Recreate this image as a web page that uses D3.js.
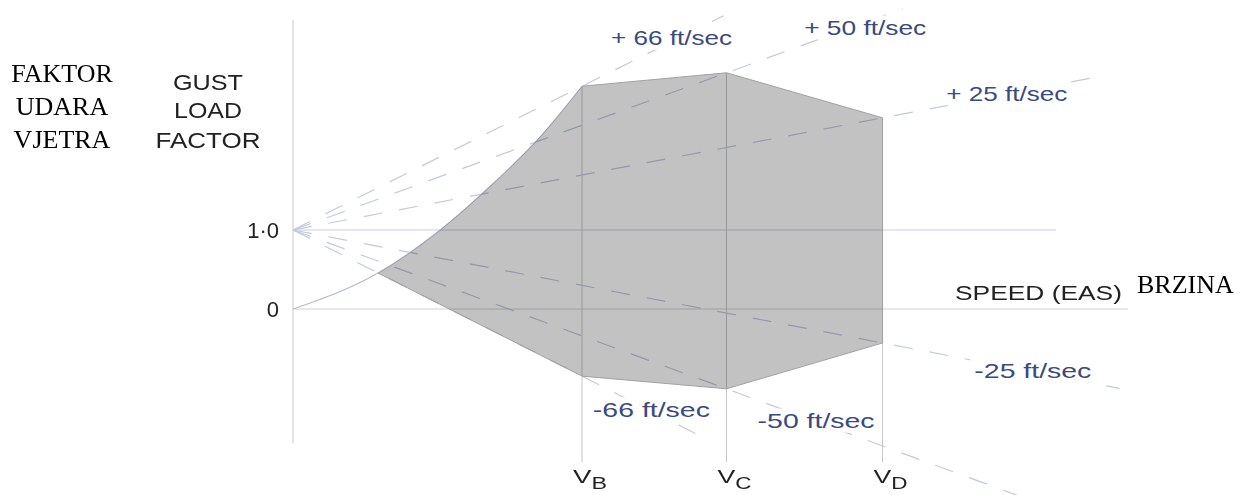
<!DOCTYPE html>
<html>
<head>
<meta charset="utf-8">
<script src="https://cdn.jsdelivr.net/npm/d3@7"></script>
<style>
    html, body { margin: 0; padding: 0; background: #fff; }
    svg { display: block; }
</style>
</head>
<body>
<svg id="chart" width="1243" height="495"></svg>
<script>
(function () {
    // speeds V_B, V_C, V_D (arbitrary EAS units)
    const speedNames = ["B", "C", "D"];
    const speedValues = [100, 150, 204];

    // gust lines, all from n = 1 at V = 0
    const gustLabels = ["+ 66 ft/sec", "+ 50 ft/sec", "+ 25 ft/sec", "-25 ft/sec", "-50 ft/sec", "-66 ft/sec"];
    const gustRefSpeed = [100, 150, 204, 204, 150, 100];
    const gustRefN = [2.82, 2.99, 2.42, -0.43, -1.01, -0.85];
    const gustEndSpeed = [149, 211, 281, 286, 252, 144];
    const gustLabelSpeed = [131, 198, 247, 256, 181, 124];

    // stall curve
    const stallSpeed = [0, 29.4, 50.9, 65.7, 85.5, 100];
    const stallN = [0, 0.456, 1.0, 1.47, 2.18, 2.82];

    const tickValues = [0, 1];
    const tickLabels = ["0", "1·0"];

    const COLORS = {
        fill: "#c2c2c2",
        edge: "#a2a2a2",
        gust: "#c4c9dc",
        unity: "#c9cde8",
        zero: "#d2d2d2",
        axis: "#c8c8c8",
        stall: "#b6bace",
        label: "#3a4a80",
        text: "#222"
    };
    const SANS = "'Liberation Sans', Arial, sans-serif";
    const SERIF = "'Liberation Serif', 'Times New Roman', serif";

    const svg = d3.select("#chart");
    const x = d3.scaleLinear().domain([0, 100]).range([293, 582]);
    const y = d3.scaleLinear().domain([0, 1]).range([309, 230]);

    const gustN = (i, v) => 1 + (gustRefN[i] - 1) * v / gustRefSpeed[i];
    const stallPts = stallSpeed.map((v, i) => [v, stallN[i]]);

    const defs = svg.append("defs");

    // region under the stall curve (plus everything right of V_B)
    const underStall = d3.area()
        .x(d => x(d[0]))
        .y0(y(-3))
        .y1(d => y(d[1]))
        .curve(d3.curveMonotoneX);
    const clip = defs.append("clipPath").attr("id", "stall-clip");
    clip.append("path").attr("d", underStall(stallPts));
    clip.append("rect")
        .attr("x", x(100) - 0.5).attr("y", y(5))
        .attr("width", x(320) - x(100)).attr("height", y(-3) - y(5));

    // envelope corners
    const top = [0, 1, 2].map(i => [gustRefSpeed[i], gustRefN[i]]);
    const bottom = [3, 4, 5].map(i => [gustRefSpeed[i], gustRefN[i]]);
    const leftPt = [stallSpeed[1], stallN[1]];
    const envelope = [[stallSpeed[1], 3.5]].concat(top, bottom, [leftPt]);

    const lineGen = d3.line().x(d => x(d[0])).y(d => y(d[1]));

    svg.append("path")
        .attr("d", lineGen(envelope) + "Z")
        .attr("fill", COLORS.fill)
        .attr("clip-path", "url(#stall-clip)");

    // thin lines, multiplied so they darken over the grey envelope
    const lines = svg.append("g").style("mix-blend-mode", "multiply").attr("fill", "none");

    lines.append("line")
        .attr("x1", x(0)).attr("x2", x(0))
        .attr("y1", y(3.66)).attr("y2", y(-1.70))
        .attr("stroke", COLORS.axis);

    lines.append("line")
        .attr("x1", x(0)).attr("x2", x(289))
        .attr("y1", y(0)).attr("y2", y(0))
        .attr("stroke", COLORS.zero);

    lines.append("line")
        .attr("x1", x(0)).attr("x2", x(264))
        .attr("y1", y(1)).attr("y2", y(1))
        .attr("stroke", COLORS.unity);

    lines.selectAll("line.speed")
        .data(speedValues)
        .enter().append("line")
        .attr("class", "speed")
        .attr("x1", d => x(d)).attr("x2", d => x(d))
        .attr("y1", (d, i) => y(gustRefN[i])).attr("y2", y(-1.94))
        .attr("stroke", "#c6c6c6");

    lines.selectAll("line.gust")
        .data(gustLabels)
        .enter().append("line")
        .attr("class", "gust")
        .attr("x1", x(0)).attr("y1", y(1))
        .attr("x2", (d, i) => x(gustEndSpeed[i]))
        .attr("y2", (d, i) => y(gustN(i, gustEndSpeed[i])))
        .attr("stroke", COLORS.gust)
        .attr("stroke-width", 1.2)
        .attr("stroke-dasharray", "19,17");

    lines.append("path")
        .attr("d", d3.line().x(d => x(d[0])).y(d => y(d[1])).curve(d3.curveMonotoneX)(stallPts))
        .attr("stroke", COLORS.stall)
        .attr("stroke-width", 1.1);

    // straight envelope edges
    svg.append("path")
        .attr("d", lineGen(top.concat(bottom, [leftPt])))
        .attr("fill", "none")
        .attr("stroke", COLORS.edge)
        .attr("stroke-width", 1);

    // gust labels with white backing
    const labelDy = [-4, 5, -1, -1, -1, -2];
    const labelW = [121, 122, 121, 117, 117, 117];
    const gl = svg.append("g")
        .selectAll("g")
        .data(gustLabels)
        .enter().append("g")
        .attr("transform", (d, i) => {
            const v = gustLabelSpeed[i];
            return `translate(${x(v)},${y(gustN(i, v)) + labelDy[i]})`;
        });
    gl.append("rect")
        .attr("x", (d, i) => -labelW[i] / 2 - 4)
        .attr("y", -12)
        .attr("width", (d, i) => labelW[i] + 8)
        .attr("height", 24)
        .attr("fill", "#fff");
    gl.append("text")
        .attr("text-anchor", "middle")
        .attr("dy", "0.36em")
        .attr("font-family", SANS)
        .attr("font-size", 21)
        .attr("fill", COLORS.label)
        .attr("textLength", (d, i) => labelW[i])
        .attr("lengthAdjust", "spacingAndGlyphs")
        .text(d => d);

    // y tick labels
    const yAxis = svg.append("g")
        .attr("transform", `translate(${x(0)},0)`)
        .call(d3.axisLeft(y).tickValues(tickValues)
            .tickFormat((d, i) => tickLabels[i])
            .tickSize(0).tickPadding(14));
    yAxis.select(".domain").remove();
    yAxis.selectAll("text")
        .attr("font-family", SANS)
        .attr("font-size", 22)
        .attr("fill", COLORS.text);

    // speed labels V_B, V_C, V_D
    const vl = svg.selectAll("text.vlabel")
        .data(speedNames)
        .enter().append("text")
        .attr("class", "vlabel")
        .attr("x", (d, i) => x(speedValues[i]) - 9)
        .attr("y", 483)
        .attr("font-family", SANS)
        .attr("fill", COLORS.text)
        .attr("textLength", 34)
        .attr("lengthAdjust", "spacingAndGlyphs");
    vl.append("tspan").attr("font-size", 19).text("V");
    vl.append("tspan").attr("font-size", 16).attr("dy", 6).text(d => d);

    // titles
    const serifLines = ["FAKTOR", "UDARA", "VJETRA"];
    const serifBase = [82, 115, 148];
    svg.selectAll("text.serif")
        .data(serifLines)
        .enter().append("text")
        .attr("class", "serif")
        .attr("x", 62).attr("y", (d, i) => serifBase[i])
        .attr("text-anchor", "middle")
        .attr("font-family", SERIF)
        .attr("font-size", 26)
        .attr("fill", "#000")
        .text(d => d);

    const gustTitle = ["GUST", "LOAD", "FACTOR"];
    const gustBase = [90, 118, 148];
    const gustWidth = [70, 68, 105];
    svg.selectAll("text.gtitle")
        .data(gustTitle)
        .enter().append("text")
        .attr("class", "gtitle")
        .attr("x", 208).attr("y", (d, i) => gustBase[i])
        .attr("text-anchor", "middle")
        .attr("font-family", SANS)
        .attr("font-size", 22)
        .attr("fill", COLORS.text)
        .attr("textLength", (d, i) => gustWidth[i])
        .attr("lengthAdjust", "spacingAndGlyphs")
        .text(d => d);

    svg.append("text")
        .attr("x", 955).attr("y", 300)
        .attr("font-family", SANS)
        .attr("font-size", 21)
        .attr("fill", COLORS.text)
        .attr("textLength", 167)
        .attr("lengthAdjust", "spacingAndGlyphs")
        .text("SPEED (EAS)");

    svg.append("text")
        .attr("x", 1137).attr("y", 293)
        .attr("font-family", SERIF)
        .attr("font-size", 26)
        .attr("fill", "#000")
        .text("BRZINA");
})();
</script>
</body>
</html>
